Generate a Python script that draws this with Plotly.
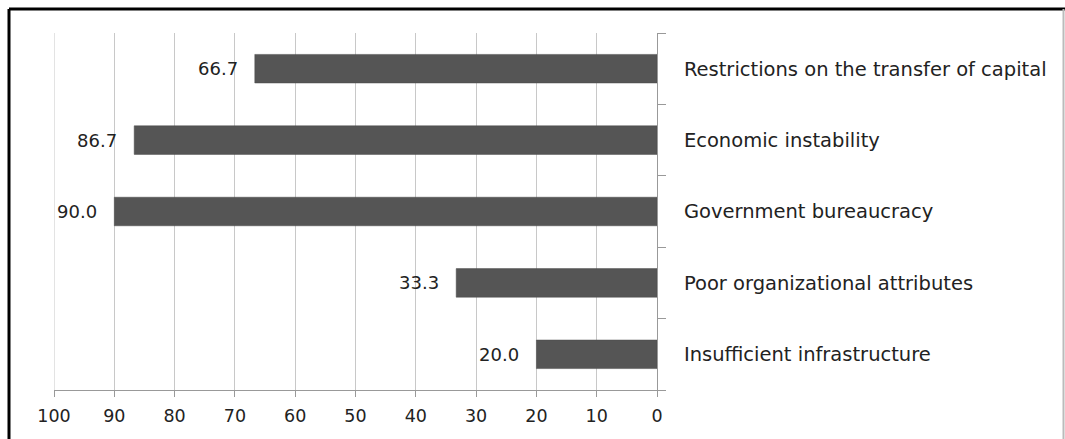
import plotly.graph_objects as go

categories = ["Insufficient infrastructure", "Poor organizational attributes",
              "Government bureaucracy", "Economic instability",
              "Restrictions on the transfer of capital"]
values = [20.0, 33.3, 90.0, 86.7, 66.7]
tick_vals = [100, 90, 80, 70, 60, 50, 40, 30, 20, 10, 0]

W, H = 1065, 439
L, R, T, B = 54, 408, 33, 49
pw, ph = W - L - R, H - T - B

def px_x(x):
    return (x - L) / pw

def px_y(y):
    return 1 - (y - T) / ph

FONT = "DejaVu Sans"

fig = go.Figure()
fig.add_trace(go.Bar(
    x=values, y=categories, orientation="h",
    marker=dict(color="#555555", line=dict(color="#4a4a4a", width=0.5)),
    width=0.4,
))

annotations = [
    dict(x=v, y=c, xref="x", yref="y", text=f"{v:.1f}", showarrow=False,
         xanchor="right", xshift=-15,
         font=dict(family=FONT, size=18, color="#222222"))
    for v, c in zip(values, categories)
]

fig.update_layout(
    width=W, height=H,
    margin=dict(l=L, r=R, t=T, b=B),
    paper_bgcolor="white", plot_bgcolor="white",
    showlegend=False,
    font=dict(family=FONT, color="#222222"),
    annotations=annotations,
    xaxis=dict(range=[100, 0], tickvals=tick_vals, showgrid=True,
               gridcolor="#c8c8c8", gridwidth=1, zeroline=False,
               showline=True, linecolor="#999999", linewidth=1,
               ticks="outside", ticklen=6, tickcolor="#999999",
               ticklabelstandoff=4,
               tickfont=dict(family=FONT, size=17.5, color="#222222")),
    yaxis=dict(side="right", categoryorder="array", categoryarray=categories,
               showgrid=False, showline=True, linecolor="#999999", linewidth=1,
               ticks="outside", ticklen=8, tickcolor="#999999",
               tickson="boundaries", ticklabelstandoff=22,
               range=[-0.5, 4.5],
               tickfont=dict(family=FONT, size=19.5, color="#222222")),
    shapes=[
        dict(type="line", xref="x", yref="paper", x0=100, x1=100, y0=0, y1=1,
             line=dict(color="#c8c8c8", width=1), layer="below"),
        dict(type="line", xref="paper", yref="paper",
             x0=px_x(9), x1=px_x(1065), y0=px_y(9), y1=px_y(9),
             line=dict(color="black", width=3)),
        dict(type="line", xref="paper", yref="paper",
             x0=px_x(9), x1=px_x(9), y0=px_y(9), y1=px_y(445),
             line=dict(color="black", width=3)),
        dict(type="line", xref="paper", yref="paper",
             x0=px_x(1063.5), x1=px_x(1063.5), y0=px_y(9), y1=px_y(445),
             line=dict(color="#bbbbbb", width=2)),
    ],
)

fig.write_html("out.html")
